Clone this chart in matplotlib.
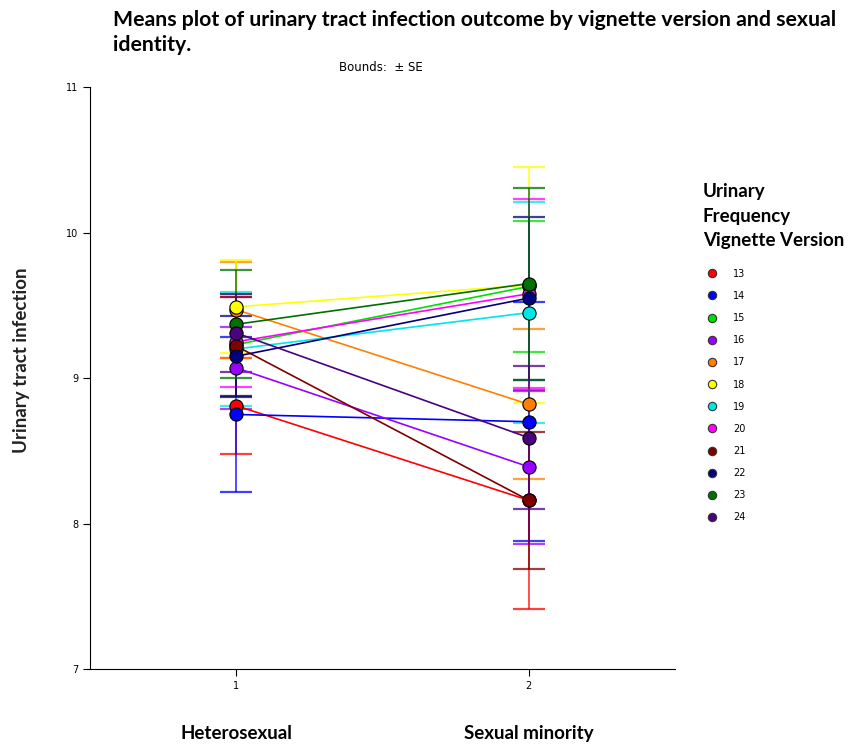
import numpy as np
import matplotlib.pyplot as plt
from matplotlib.lines import Line2D

# Vignette versions and their colours
versions = ['13', '14', '15', '16', '17', '18', '19', '20', '21', '22', '23', '24']
colors = ['#ff0000', '#0000ff', '#00e000', '#9900ff', '#ff8000', '#ffff00',
          '#00e5e5', '#ff00ff', '#800000', '#000080', '#007000', '#4b0082']

groups = ['Heterosexual', 'Sexual minority']

# Means and standard errors per group
het_mean = [8.81, 8.75, 9.23, 9.07, 9.47, 9.49, 9.20, 9.25, 9.22, 9.15, 9.37, 9.31]
het_se = [0.33, 0.53, 0.35, 0.28, 0.33, 0.32, 0.39, 0.31, 0.34, 0.28, 0.37, 0.27]
min_mean = [8.16, 8.70, 9.63, 8.39, 8.82, 9.64, 9.45, 9.58, 8.16, 9.55, 9.65, 8.59]
min_se = [0.75, 0.82, 0.45, 0.53, 0.515, 0.81, 0.76, 0.65, 0.47, 0.56, 0.66, 0.49]

fig = plt.figure(figsize=(8.59, 7.45), dpi=100)
ax = fig.add_axes([0.1048, 0.102, 0.681, 0.781])

x = np.array([1, 2])
for i, v in enumerate(versions):
    m = [het_mean[i], min_mean[i]]
    s = [het_se[i], min_se[i]]
    ax.errorbar(x, m, yerr=s, fmt='none', ecolor=colors[i], elinewidth=1.3,
                capsize=11.5, capthick=1.6, alpha=0.75, zorder=2)
    ax.plot(x, m, '-', color=colors[i], lw=1.2, zorder=3)
    ax.plot(x, m, 'o', color=colors[i], markersize=9.5, markeredgecolor='black',
            markeredgewidth=0.8, zorder=4)

ax.set_xlim(0.5, 2.5)
ax.set_ylim(7, 11)
ax.set_xticks([1, 2])
ax.set_yticks([7, 8, 9, 10, 11])
ax.tick_params(labelsize=7, length=5, width=0.8)
ax.spines['top'].set_visible(False)
ax.spines['right'].set_visible(False)

for xi, g in zip(x, groups):
    ax.text(xi, -0.11, g, transform=ax.get_xaxis_transform(), ha='center',
            va='center', fontsize=13.5, fontweight='bold', family='Lato')

ax.set_ylabel('Urinary tract infection', fontsize=13.5, color='#222222',
              family='Lato', fontweight='bold')
ax.yaxis.set_label_coords(-0.102, 0.53)

fig.text(0.132, 0.986, 'Means plot of urinary tract infection outcome by vignette version and sexual\nidentity.',
         ha='left', va='top', fontsize=15.3, fontweight='bold', family='Lato',
         linespacing=1.3)
fig.text(0.443, 0.91, 'Bounds:  \u00b1 SE', ha='center', va='center', fontsize=8.5,
         family='Liberation Sans Narrow')

# legend title drawn separately so its line spacing can follow the layout
fig.text(703 / 859, 1 - 183 / 745, 'Urinary\nFrequency\nVignette Version',
         ha='left', va='top', fontsize=13.5, fontweight='bold', family='Lato',
         linespacing=1.55)

handles = [Line2D([], [], marker='o', linestyle='none', color=c, markersize=6,
                  markeredgecolor='#333333', markeredgewidth=0.8) for c in colors]
leg = fig.legend(handles, versions, loc='upper left',
                 bbox_to_anchor=(698 / 859, 1 - 260 / 745),
                 frameon=False, fontsize=7, labelspacing=1.25, handlelength=1.0,
                 handletextpad=1.7)

fig.savefig('out.png', dpi=100)
